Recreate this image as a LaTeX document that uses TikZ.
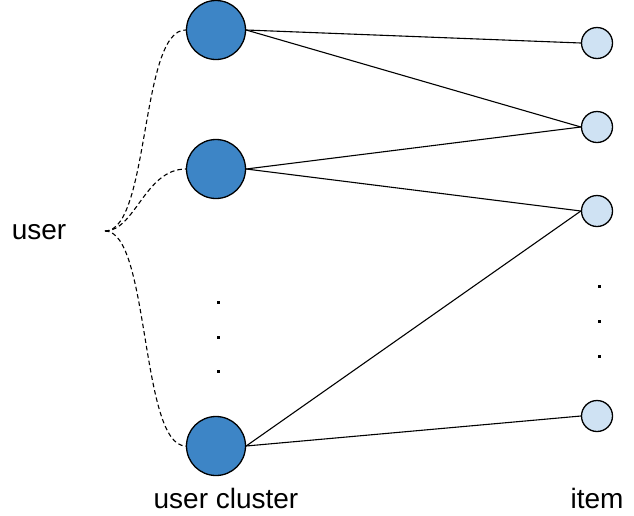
\documentclass[tikz,border=0pt]{standalone}
\usepackage{fontspec}
\setmainfont{Liberation Sans}
\begin{document}
\begin{tikzpicture}[x=1pt,y=-1pt,
  cluster/.style={circle,draw=black,line width=1.3pt,fill=clusterblue,minimum size=59pt,inner sep=0pt},
  itemnode/.style={circle,draw=black,line width=1.3pt,fill=itemblue,minimum size=31pt,inner sep=0pt},
  link/.style={line width=1.1pt},
  dashlink/.style={line width=1.1pt,dash pattern=on 4.5pt off 3pt},
  lbl/.style={font=\fontsize{28}{30}\selectfont,inner sep=0pt},
  dotmark/.style={fill=black,draw=none,minimum size=3pt,inner sep=0pt,rectangle}
]
\definecolor{clusterblue}{HTML}{3D85C6}
\definecolor{itemblue}{HTML}{CFE2F3}
\useasboundingbox (0,0) rectangle (634,515);

\node[cluster] (c1) at (216,30) {};
\node[cluster] (c2) at (216,169) {};
\node[cluster] (c3) at (216,446) {};

\node[itemnode] (i1) at (597,43) {};
\node[itemnode] (i2) at (597,127) {};
\node[itemnode] (i3) at (597,211) {};
\node[itemnode] (i4) at (597,416) {};

\draw[link] (c1.east) -- (i1.west);
\draw[link] (c1.east) -- (i2.west);
\draw[link] (c2.east) -- (i2.west);
\draw[link] (c2.east) -- (i3.west);
\draw[link] (c3.east) -- (i3.west);
\draw[link] (c3.east) -- (i4.west);

\node[lbl] (user) at (39,232) {user};
\coordinate (u) at (105,231);
\draw[dashlink] (u) .. controls (150,231) and (140,29) .. (c1.west);
\draw[dashlink] (u) .. controls (135,231) and (145,169) .. (c2.west);
\draw[dashlink] (u) .. controls (150,231) and (140,446) .. (c3.west);

\node[dotmark] (ld1) at (218,302) {};
\node[dotmark] (ld2) at (218,337) {};
\node[dotmark] (ld3) at (218,371) {};
\node[dotmark] (rd1) at (599,286) {};
\node[dotmark] (rd2) at (599,321) {};
\node[dotmark] (rd3) at (599,356) {};

\node[lbl] (uc) at (226,498) {user cluster};
\node[lbl] (it) at (597,498) {item};
\end{tikzpicture}
\end{document}
